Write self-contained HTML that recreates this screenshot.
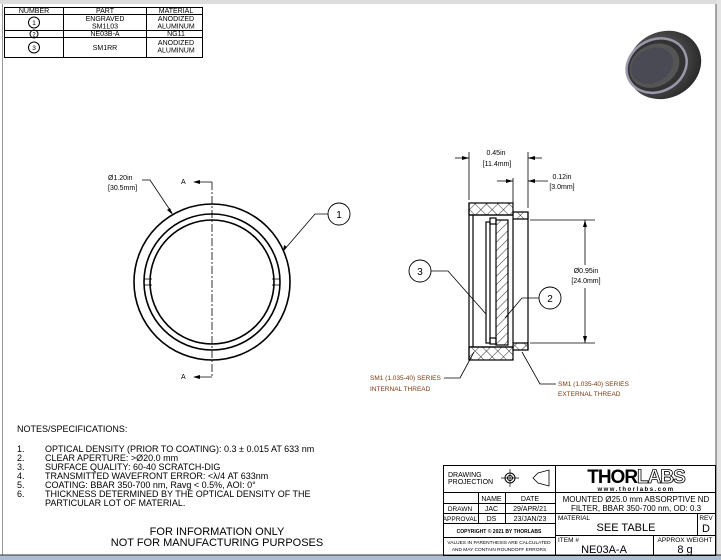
<!DOCTYPE html>
<html><head><style>
html,body{margin:0;padding:0;background:#fff;}
svg{display:block;font-family:"Liberation Sans",sans-serif;}
</style></head><body>
<svg width="721" height="560" viewBox="0 0 721 560" xmlns="http://www.w3.org/2000/svg">
<defs>
<pattern id="h" width="6" height="6" patternUnits="userSpaceOnUse" patternTransform="rotate(45)"><line x1="0" y1="0" x2="0" y2="6" stroke="#000" stroke-width="0.8"/></pattern>
<pattern id="x" width="8" height="8" patternUnits="userSpaceOnUse" patternTransform="rotate(45)"><line x1="0" y1="0" x2="0" y2="8" stroke="#000" stroke-width="0.8"/><line x1="0" y1="0" x2="8" y2="0" stroke="#000" stroke-width="0.8"/></pattern>
<radialGradient id="g" cx="0.4" cy="0.4" r="0.7"><stop offset="0" stop-color="#777"/><stop offset="1" stop-color="#222"/></radialGradient>
</defs>
<rect x="0" y="0" width="721" height="4" fill="#dcdcdc"/>
<line x1="2.5" y1="4" x2="2.5" y2="556" stroke="#999"/>
<rect x="716" y="0" width="5" height="560" fill="#e4e4e4"/>
<line x1="716" y1="4" x2="716" y2="556" stroke="#555"/>
<rect x="0" y="555" width="721" height="5" fill="#aebdd0"/>
<line x1="0" y1="555" x2="721" y2="555" stroke="#333"/>

<!-- parts table -->
<g stroke="#000" stroke-width="1" fill="none">
<rect x="4.5" y="7.5" width="198" height="50"/>
<line x1="4" y1="14.5" x2="203" y2="14.5"/>
<line x1="4" y1="30.5" x2="203" y2="30.5"/>
<line x1="4" y1="37.5" x2="203" y2="37.5"/>
<line x1="63.5" y1="7" x2="63.5" y2="58"/>
<line x1="146.5" y1="7" x2="146.5" y2="58"/>
<circle cx="34" cy="22.5" r="5.5"/><circle cx="34" cy="34" r="4"/><circle cx="34" cy="47.5" r="5.5"/>
</g>
<g font-size="7" text-anchor="middle" fill="#000">
<text x="34" y="13">NUMBER</text><text x="105" y="13">PART</text><text x="176" y="13">MATERIAL</text>
<text x="34" y="25" font-size="6.5">1</text><text x="34" y="36.5" font-size="6">2</text><text x="34" y="50" font-size="6.5">3</text>
<text x="105" y="21">ENGRAVED</text><text x="105" y="28.5">SM1L03</text>
<text x="176" y="21">ANODIZED</text><text x="176" y="28.5">ALUMINUM</text>
<text x="105" y="36">NE03B-A</text><text x="176" y="36">NG11</text>
<text x="105" y="50">SM1RR</text>
<text x="176" y="45">ANODIZED</text><text x="176" y="52.5">ALUMINUM</text>
</g>

<!-- photo -->
<g transform="rotate(-28 662 65)">
<ellipse cx="664" cy="66" rx="38" ry="33" fill="url(#g)"/>
<ellipse cx="657" cy="63" rx="31" ry="26" fill="#333" stroke="#99a" stroke-width="2.5"/>
<ellipse cx="655" cy="62" rx="26" ry="21" fill="#555"/>
<ellipse cx="653" cy="61" rx="22" ry="17" fill="#4a4a55"/>
</g>

<!-- front view -->
<g stroke="#000" fill="none">
<circle cx="212" cy="282" r="78" stroke-width="1.6"/>
<circle cx="212" cy="282" r="68" stroke-width="1.6"/>
<circle cx="212" cy="282" r="62" stroke-width="1.6"/>
<line x1="212" y1="182" x2="212" y2="378" stroke-width="0.8" stroke-dasharray="8,2,2,2"/>
<line x1="195" y1="182" x2="212" y2="182" stroke-width="0.8"/>
<line x1="195" y1="377" x2="212" y2="377" stroke-width="0.8"/>
<line x1="144" y1="279" x2="152" y2="279" stroke-width="0.8"/><line x1="144" y1="285" x2="152" y2="285" stroke-width="0.8"/>
<line x1="272" y1="279" x2="280" y2="279" stroke-width="0.8"/><line x1="272" y1="285" x2="280" y2="285" stroke-width="0.8"/>
<polyline points="142,180 150,180 172,213" stroke-width="0.8"/>
<polyline points="328,214 315,214 284,250" stroke-width="0.8"/>
<circle cx="339" cy="214" r="11" stroke-width="0.9"/>
</g>
<g fill="#000">
<polygon points="193,182 200,180 200,184"/><polygon points="193,377 200,375 200,379"/>
<polygon points="173,215 167,210 170,208"/><polygon points="283,252 284,245 287,247"/>
</g>
<g font-size="7" fill="#000">
<text x="108" y="180">Ø1.20in</text><text x="108" y="190">[30.5mm]</text>
<text x="181" y="184">A</text><text x="181" y="379">A</text>
<text x="339" y="218" text-anchor="middle" font-size="10">1</text>
</g>

<!-- section view -->
<g stroke="#000" fill="none" stroke-width="1.2">
<rect x="469" y="203" width="44" height="12" fill="url(#x)"/>
<rect x="469" y="347" width="44" height="13" fill="url(#x)"/>
<path d="M513,212 L528,212 L528,219 L513,219 Z" fill="url(#x)"/>
<path d="M513,343 L528,343 L528,350 L513,350 Z" fill="url(#x)"/>
<line x1="469" y1="203" x2="469" y2="360"/>
<line x1="473" y1="215" x2="473" y2="347"/>
<line x1="513" y1="219" x2="513" y2="343"/>
<line x1="528" y1="212" x2="528" y2="350"/>
<line x1="469" y1="215" x2="513" y2="215"/><line x1="469" y1="347" x2="513" y2="347"/>
<rect x="496" y="220" width="12" height="125" fill="url(#h)"/>
<rect x="486" y="222" width="4" height="121"/>
<rect x="490" y="218" width="6" height="6"/><rect x="490" y="338" width="6" height="6"/>
</g>
<g stroke="#000" fill="none" stroke-width="0.8">
<line x1="469" y1="152" x2="469" y2="200"/><line x1="528" y1="152" x2="528" y2="208"/>
<line x1="455" y1="158" x2="469" y2="158"/><line x1="528" y1="158" x2="542" y2="158"/>
<line x1="513" y1="178" x2="513" y2="210"/>
<line x1="497" y1="181" x2="513" y2="181"/><line x1="528" y1="181" x2="548" y2="181"/>
<line x1="530" y1="220" x2="595" y2="220"/><line x1="530" y1="343" x2="595" y2="343"/>
<line x1="585" y1="220" x2="585" y2="265"/><line x1="585" y1="288" x2="585" y2="343"/>
<circle cx="420" cy="271" r="11" stroke-width="0.9"/>
<polyline points="431,271 448,271 486,314"/>
<circle cx="550" cy="298" r="11" stroke-width="0.9"/>
<polyline points="539,298 522,298 505,318"/>
<polyline points="444,378 460,378 474,352"/>
<polyline points="556,384 540,384 522,352"/>
</g>
<g fill="#000">
<polygon points="469,158 462,156 462,160"/><polygon points="528,158 535,156 535,160"/>
<polygon points="513,181 506,179 506,183"/><polygon points="528,181 535,179 535,183"/>
<polygon points="585,220 583,227 587,227"/><polygon points="585,343 583,336 587,336"/>
</g>
<g font-size="7" fill="#000">
<text x="496" y="155" text-anchor="middle">0.45in</text><text x="497" y="166" text-anchor="middle">[11.4mm]</text>
<text x="562" y="179" text-anchor="middle">0.12in</text><text x="562" y="189" text-anchor="middle">[3.0mm]</text>
<text x="586" y="273" text-anchor="middle">Ø0.95in</text><text x="586" y="283" text-anchor="middle">[24.0mm]</text>
<text x="420" y="275" text-anchor="middle" font-size="10">3</text>
<text x="550" y="302" text-anchor="middle" font-size="10">2</text>
</g>
<g font-size="6.5" fill="#7a3a10">
<text x="370" y="380">SM1 (1.035-40) SERIES</text><text x="370" y="391">INTERNAL THREAD</text>
<text x="558" y="386">SM1 (1.035-40) SERIES</text><text x="558" y="396">EXTERNAL THREAD</text>
</g>

<!-- notes -->
<g font-size="9" fill="#000">
<text x="17" y="432">NOTES/SPECIFICATIONS:</text>
<text x="17" y="452">1.</text><text x="45" y="452">OPTICAL DENSITY (PRIOR TO COATING): 0.3 ± 0.015 AT 633 nm</text>
<text x="17" y="461">2.</text><text x="45" y="461">CLEAR APERTURE: &gt;Ø20.0 mm</text>
<text x="17" y="470">3.</text><text x="45" y="470">SURFACE QUALITY: 60-40 SCRATCH-DIG</text>
<text x="17" y="479">4.</text><text x="45" y="479">TRANSMITTED WAVEFRONT ERROR: &lt;λ/4 AT 633nm</text>
<text x="17" y="488">5.</text><text x="45" y="488">COATING: BBAR 350-700 nm, Ravg &lt; 0.5%, AOI: 0°</text>
<text x="17" y="497">6.</text><text x="45" y="497">THICKNESS DETERMINED BY THE OPTICAL DENSITY OF THE</text>
<text x="45" y="506">PARTICULAR LOT OF MATERIAL.</text>
</g>
<g font-size="11" fill="#000" text-anchor="middle">
<text x="217" y="535">FOR INFORMATION ONLY</text>
<text x="217" y="546">NOT FOR MANUFACTURING PURPOSES</text>
</g>

<!-- title block -->
<g stroke="#000" fill="none" stroke-width="1">
<rect x="443.5" y="465.5" width="272" height="90"/>
<line x1="555.5" y1="465" x2="555.5" y2="555"/>
<line x1="443" y1="492.5" x2="716" y2="492.5"/>
<line x1="443" y1="503.5" x2="555" y2="503.5"/>
<line x1="443" y1="513.5" x2="716" y2="513.5"/>
<line x1="443" y1="523.5" x2="555" y2="523.5"/>
<line x1="443" y1="537.5" x2="555" y2="537.5"/>
<line x1="555" y1="535.5" x2="716" y2="535.5"/>
<line x1="478.5" y1="492" x2="478.5" y2="524"/>
<line x1="505.5" y1="492" x2="505.5" y2="524"/>
<line x1="697.5" y1="513" x2="697.5" y2="535"/>
<line x1="653.5" y1="535" x2="653.5" y2="555"/>
<circle cx="510" cy="478" r="5"/><circle cx="510" cy="478" r="2.5"/>
<line x1="501" y1="478" x2="519" y2="478" stroke-width="0.7"/><line x1="510" y1="469" x2="510" y2="487" stroke-width="0.7"/>
<path d="M533,478 L538,473 L549,470 L549,486 L538,483 Z" stroke-width="0.8"/>
</g>
<g fill="#000">
<text x="448" y="477" font-size="7">DRAWING</text><text x="448" y="484" font-size="7">PROJECTION</text>
<text x="491.5" y="501" font-size="7" text-anchor="middle">NAME</text><text x="530" y="501" font-size="7" text-anchor="middle">DATE</text>
<text x="460" y="511" font-size="6.5" text-anchor="middle">DRAWN</text><text x="491.5" y="511" font-size="7" text-anchor="middle">JAC</text><text x="530" y="511" font-size="7" text-anchor="middle">29/APR/21</text>
<text x="460" y="521" font-size="6.5" text-anchor="middle">APPROVAL</text><text x="491.5" y="521" font-size="7" text-anchor="middle">DS</text><text x="530" y="521" font-size="7" text-anchor="middle">23/JAN/23</text>
<text x="499" y="533" font-size="5" font-weight="bold" text-anchor="middle">COPYRIGHT © 2021 BY THORLABS</text>
<text x="499" y="544" font-size="4.8" text-anchor="middle">VALUES IN PARENTHESIS ARE CALCULATED</text>
<text x="499" y="551" font-size="4.8" text-anchor="middle">AND MAY CONTAIN ROUNDOFF ERRORS</text>
<text x="636" y="483" font-size="19" font-weight="bold" text-anchor="middle" letter-spacing="-1">THOR<tspan fill="#fff" stroke="#000" stroke-width="0.8">LABS</tspan></text>
<text x="636" y="491" font-size="6" font-weight="bold" text-anchor="middle" letter-spacing="1.5">www.thorlabs.com</text>
<text x="636" y="502" font-size="8" text-anchor="middle">MOUNTED  Ø25.0 mm ABSORPTIVE ND</text>
<text x="636" y="511" font-size="8" text-anchor="middle">FILTER, BBAR 350-700 nm, OD: 0.3</text>
<text x="558" y="520" font-size="6.5">MATERIAL</text>
<text x="626" y="531" font-size="11" text-anchor="middle">SEE TABLE</text>
<text x="706" y="520" font-size="6.5" text-anchor="middle">REV</text>
<text x="706" y="532" font-size="11" text-anchor="middle">D</text>
<text x="558" y="542" font-size="6.5">ITEM #</text>
<text x="604" y="553" font-size="11" text-anchor="middle">NE03A-A</text>
<text x="685" y="542" font-size="6.5" text-anchor="middle">APPROX WEIGHT</text>
<text x="685" y="553" font-size="11" text-anchor="middle">8 g</text>
</g>
</svg>
</body></html>
